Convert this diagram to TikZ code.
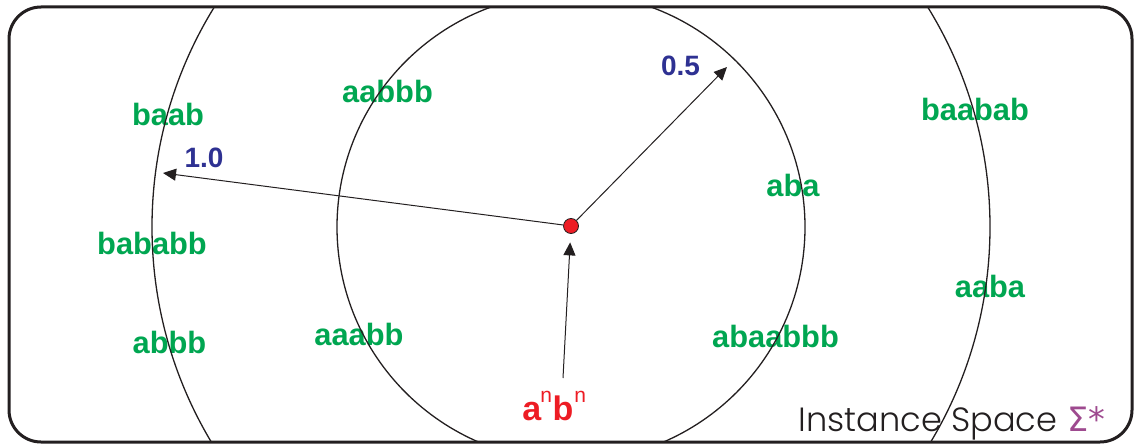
\documentclass[tikz,border=0pt]{standalone}
\usepackage{fontspec}
\setmainfont{Liberation Sans}
\newfontfamily\geo{Poppins}[UprightFont=* Light]
\newfontfamily\dvs{DejaVu Sans}
\usetikzlibrary{arrows.meta,calc}
\definecolor{lgreen}{HTML}{00A651}
\definecolor{nblue}{HTML}{2E3192}
\definecolor{dred}{HTML}{ED1C24}
\definecolor{sigpurple}{HTML}{9E4A8F}
\definecolor{frame}{HTML}{231F20}
\newcommand\supn{\raisebox{0.52em}{\mdseries\fontsize{10.5}{10.5}\selectfont n}}
\begin{document}
\begin{tikzpicture}[x=0.5pt,y=-0.5pt,
  word/.style={text=lgreen, font=\fontsize{15.4}{15}\selectfont\bfseries, anchor=base, inner sep=0pt},
  num/.style={text=nblue, font=\fontsize{14}{14}\selectfont\bfseries, anchor=base, inner sep=0pt},
  ring/.style={line width=0.65pt, draw=frame},
  arr/.style={line width=0.5pt, draw=frame, -{Triangle[length=6.5pt,width=6pt]}},
]
\useasboundingbox (0,0) rectangle (1135,444);
% labels
\node[word] (w1) at (168,126) {baab};
\node[word] (w2) at (387.5,103) {aabbb};
\node[word] (w3) at (975,120) {baabab};
\node[word] (w4) at (793,197) {aba};
\node[word] (w5) at (990,297) {aaba};
\node[word] (w6) at (152,254) {bababb};
\node[word] (w7) at (169.5,353) {abbb};
\node[word] (w8) at (359,345) {aaabb};
\node[word] (w9) at (775.5,347) {abaabbb};
\node[num] (n05) at (680.5,76) {0.5};
\node[num] (n10) at (204,168) {1.0};
\node[text=dred, font=\fontsize{17}{17}\selectfont\bfseries, anchor=base west, inner sep=0pt] (anbn) at (522,420)
  {a\kern-0.5pt\supn\kern0.3pt b\kern0.5pt\supn};
\node[anchor=base west, inner sep=0pt, text=frame, font=\fontsize{16.8}{17}\selectfont\geo] (title) at (798,431)
  {Instance Space\hspace{5pt}{\dvs\color{sigpurple}Σ*}};
% circles
\begin{scope}
  \clip[rounded corners=16pt] (9,7) rectangle (1132,442);
  \draw[ring] (571,227) circle[radius=209.5pt];
  \draw[ring] (571,227) circle[radius=117pt];
\end{scope}
% centre and arrows
\node[circle, fill=dred, draw=frame, line width=0.4pt, minimum size=7.5pt, inner sep=0pt] (c) at (571,226) {};
\coordinate (t05) at (727,67);
\coordinate (t10) at (163,173);
\coordinate (s) at (563,378);
\draw[arr] (c) -- (t05);
\draw[arr] (c) -- (t10);
\draw[arr, shorten >=4.25pt] (s) -- (c);
% frame
\draw[draw=frame, line width=1.5pt, rounded corners=16pt] (9,7) rectangle (1132,442);
\end{tikzpicture}
\end{document}
